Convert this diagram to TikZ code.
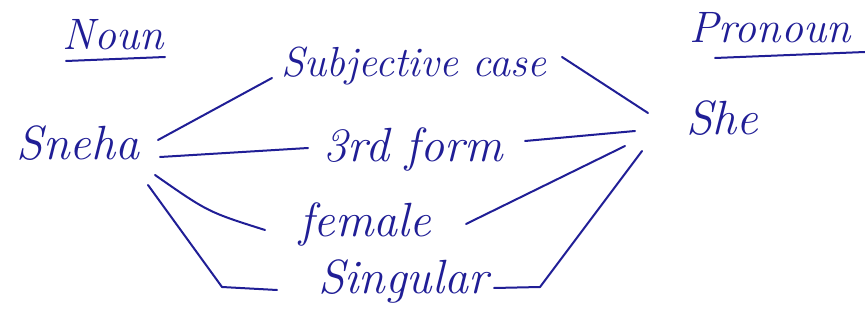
\documentclass[tikz,border=0pt]{standalone}
\usetikzlibrary{calc}
\definecolor{pen}{RGB}{32,30,150}
\begin{document}
\begin{tikzpicture}[x=1pt,y=-1pt,
  hw/.style={text=pen,font=\itshape\fontsize{48}{50}\selectfont,inner sep=1pt,anchor=base},
  wide/.style={hw,font=\itshape\fontsize{42}{44}\selectfont},
  head/.style={hw,font=\itshape\fontsize{44}{46}\selectfont},
  link/.style={draw=pen,line width=2pt,line cap=round,line join=round}]
\useasboundingbox[fill=white] (0,0) rectangle (865,331);
% texts
\node[head] (noun) at (113,50) {Noun};
\node[head] (pronoun) at (770,43) {Pronoun};
\node[hw] (sneha) at (78,160) {Sneha};
\node[wide] (subj) at (414,77) {Subjective case};
\node[hw] (third) at (413,162) {3rd form};
\node[hw] (female) at (365,237) {female};
\node[hw] (singular) at (403,293) {Singular};
\node[hw] (she) at (722,135) {She};
% underlines
\draw[link] ($(noun.base)+(-47,11)$) -- ($(noun.base)+(52,7)$);
\draw[link] ($(pronoun.base)+(-55,15)$) -- ($(pronoun.base)+(95,9)$);
% left connectors
\draw[link] ($(sneha.base)+(80,-20)$) -- ($(subj.base)+(-142,1)$);
\draw[link] ($(sneha.base)+(82,-3)$) -- ($(third.base)+(-105,-14)$);
\draw[link] ($(sneha.base)+(77,15)$) .. controls ($(sneha.base)+(130,52)$) .. ($(female.base)+(-100,-7)$);
\draw[link] ($(sneha.base)+(70,25)$) -- ($(singular.base)+(-181,-6)$) -- ($(singular.base)+(-126,-3)$);
% right connectors
\draw[link] ($(subj.base)+(148,-20)$) -- ($(she.base)+(-74,-22)$);
\draw[link] ($(third.base)+(112,-21)$) -- ($(she.base)+(-87,-4)$);
\draw[link] ($(female.base)+(101,-13)$) -- ($(she.base)+(-97,11)$);
\draw[link] ($(singular.base)+(91,-5)$) -- ($(singular.base)+(137,-6)$) -- ($(she.base)+(-80,16)$);
\end{tikzpicture}
\end{document}
